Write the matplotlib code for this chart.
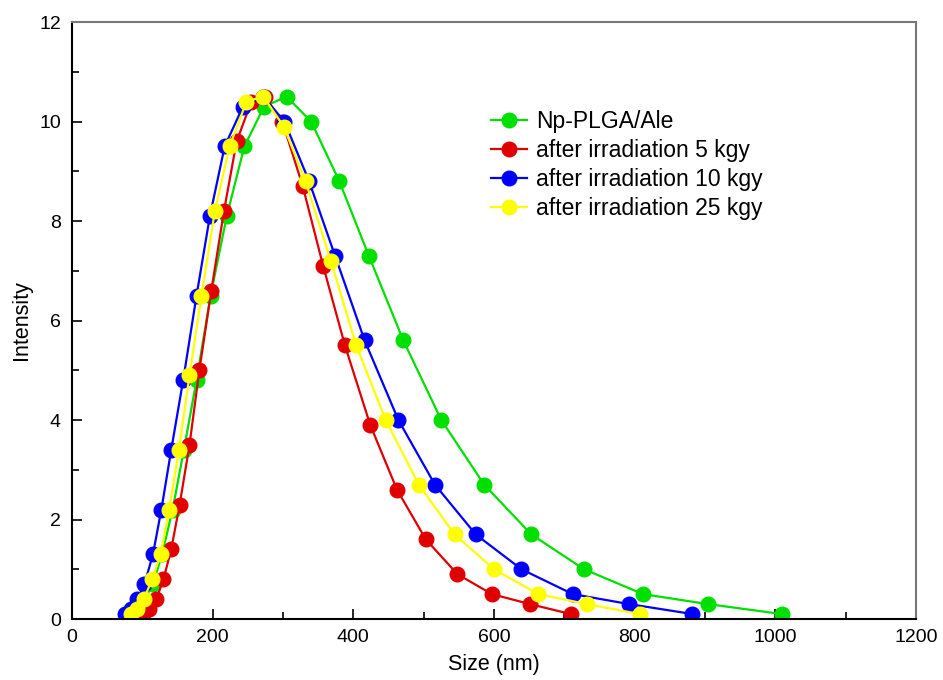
import matplotlib
matplotlib.use("Agg")
import matplotlib.pyplot as plt
from matplotlib.ticker import MultipleLocator

plt.rcParams['font.family'] = ['Liberation Sans', 'DejaVu Sans']

# size (nm) / intensity
size_np = [84, 93, 103, 115, 128, 143, 159, 177, 197, 220, 245, 273, 305, 340,
           380, 422, 471, 525, 586, 653, 728, 812, 904, 1009]
int_np = [0.1, 0.2, 0.4, 0.7, 1.3, 2.2, 3.4, 4.8, 6.5, 8.1, 9.5, 10.3, 10.5, 10.0,
          8.8, 7.3, 5.6, 4.0, 2.7, 1.7, 1.0, 0.5, 0.3, 0.1]

size_5 = [101, 110, 120, 130, 141, 153, 167, 181, 198, 216, 234, 255, 274, 299,
          328, 357, 388, 424, 462, 503, 548, 597, 651, 709]
int_5 = [0.1, 0.2, 0.4, 0.8, 1.4, 2.3, 3.5, 5.0, 6.6, 8.2, 9.6, 10.4, 10.5, 10.0,
         8.7, 7.1, 5.5, 3.9, 2.6, 1.6, 0.9, 0.5, 0.3, 0.1]

size_10 = [75, 84, 93, 103, 115, 127, 141, 158, 177, 196, 217, 243, 272, 302,
           337, 374, 416, 464, 516, 574, 639, 712, 792, 882]
int_10 = [0.1, 0.2, 0.4, 0.7, 1.3, 2.2, 3.4, 4.8, 6.5, 8.1, 9.5, 10.3, 10.5, 10.0,
          8.8, 7.3, 5.6, 4.0, 2.7, 1.7, 1.0, 0.5, 0.3, 0.1]

size_25 = [84, 92, 102, 114, 126, 138, 152, 167, 184, 203, 224, 248, 272, 301,
           332, 368, 404, 446, 493, 544, 600, 663, 732, 807]
int_25 = [0.1, 0.2, 0.4, 0.8, 1.3, 2.2, 3.4, 4.9, 6.5, 8.2, 9.5, 10.4, 10.5, 9.9,
          8.8, 7.2, 5.5, 4.0, 2.7, 1.7, 1.0, 0.5, 0.3, 0.1]

labels = ['Np-PLGA/Ale', 'after irradiation 5 kgy', 'after irradiation 10 kgy',
          'after irradiation 25 kgy']
colors = ['#00e000', '#e00000', '#0000ff', '#ffff00']

fig = plt.figure(figsize=(9.43, 6.8), dpi=100)
ax = fig.add_axes([0.0764, 0.0897, 0.8950, 0.8779])

series = [(size_np, int_np), (size_5, int_5), (size_10, int_10), (size_25, int_25)]
for (xs, ys), lab, c in zip(series, labels, colors):
    ax.plot(xs, ys, '-o', color=c, lw=1.6, ms=10.5, mec=c, label=lab)

ax.set_xlim(0, 1200)
ax.set_ylim(0, 12)
ax.xaxis.set_major_locator(MultipleLocator(200))
ax.xaxis.set_minor_locator(MultipleLocator(100))
ax.yaxis.set_major_locator(MultipleLocator(2))
ax.yaxis.set_minor_locator(MultipleLocator(1))
ax.tick_params(which='both', direction='in', top=False, right=False, labelsize=14)
ax.tick_params(axis='x', which='both', pad=7)
ax.tick_params(axis='y', which='both', pad=8)
ax.tick_params(which='major', length=7, width=1.2)
ax.tick_params(which='minor', length=5, width=1.2)

for s in ['left', 'bottom']:
    ax.spines[s].set_linewidth(1.5)
for s in ['top', 'right']:
    ax.spines[s].set_color('#777777')
    ax.spines[s].set_linewidth(1.5)

ax.set_xlabel('Size (nm)', fontsize=15.5, labelpad=6)
ax.set_ylabel('Intensity', fontsize=15.5, labelpad=5)

ax.legend(loc='upper left', bbox_to_anchor=(0.496, 0.853), frameon=False,
          fontsize=16.5, handlelength=1.6, handletextpad=0.38, labelspacing=0.26,
          borderpad=0, borderaxespad=0)

fig.savefig('out.png', dpi=100)
